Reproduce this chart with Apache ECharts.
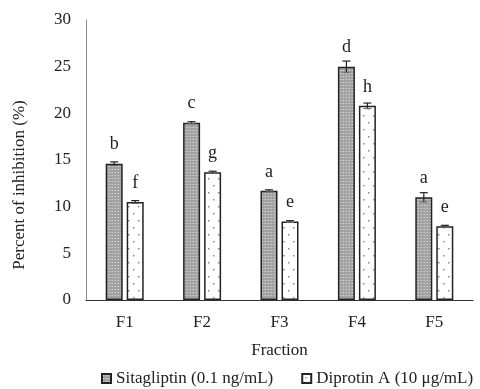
<!DOCTYPE html>
<html>
<head>
<meta charset="utf-8">
<script src="https://cdn.jsdelivr.net/npm/echarts@6/dist/echarts.min.js"></script>
<style>
  html, body { margin: 0; padding: 0; background: #fff; }
  #chart { width: 480px; height: 389px; }
</style>
</head>
<body>
<div id="chart"></div>
<script>
const fractions = ['F1', 'F2', 'F3', 'F4', 'F5'];
const sitaValues = [14.6, 19.0, 11.7, 25.0, 11.0];
const sitaErrors = [0.2, 0.1, 0.1, 0.6, 0.5];
const sitaLetters = ['b', 'c', 'a', 'd', 'a'];
const diproValues = [10.5, 13.7, 8.4, 20.8, 7.9];
const diproErrors = [0.15, 0.1, 0.1, 0.3, 0.1];
const diproLetters = ['f', 'g', 'e', 'h', 'e'];
const yTicks = [0, 5, 10, 15, 20, 25, 30];

const FONT = 'Liberation Serif';
const BAR_W = 17;
const BAR_GAP = 4;

// gray fine-grid fill for Sitagliptin
function sitaPattern() {
  const c = document.createElement('canvas');
  c.width = 3; c.height = 3;
  const ctx = c.getContext('2d');
  ctx.fillStyle = '#a2a2a2';
  ctx.fillRect(0, 0, 3, 3);
  ctx.fillStyle = '#d2d2d2';
  ctx.fillRect(1, 1, 1, 1);
  ctx.fillStyle = '#b8b8b8';
  ctx.fillRect(0, 1, 1, 1);
  return c;
}
// white with sparse gray dots for Diprotin A
function diproPattern() {
  const c = document.createElement('canvas');
  c.width = 10; c.height = 14;
  const ctx = c.getContext('2d');
  ctx.fillStyle = '#ffffff';
  ctx.fillRect(0, 0, 10, 14);
  ctx.fillStyle = '#8a8a8a';
  ctx.fillRect(3, 3, 1.5, 1.5);
  ctx.fillRect(8, 10, 1.5, 1.5);
  return c;
}

function errorSeries(name, values, errors, offset) {
  return {
    name: name,
    type: 'custom',
    z: 5,
    silent: true,
    data: values.map((v, i) => [i, v - errors[i], v + errors[i]]),
    renderItem: function (params, api) {
      const lo = api.coord([api.value(0), api.value(1)]);
      const hi = api.coord([api.value(0), api.value(2)]);
      const x = lo[0] + offset;
      const cap = 4;
      const st = { stroke: '#222', lineWidth: 1.2 };
      return {
        type: 'group',
        children: [
          { type: 'line', shape: { x1: x, y1: lo[1], x2: x, y2: hi[1] }, style: st },
          { type: 'line', shape: { x1: x - cap, y1: hi[1], x2: x + cap, y2: hi[1] }, style: st },
          { type: 'line', shape: { x1: x - cap, y1: lo[1], x2: x + cap, y2: lo[1] }, style: { stroke: '#666', lineWidth: 1 } }
        ]
      };
    }
  };
}

const off = (BAR_W + BAR_GAP) / 2;
const chart = echarts.init(document.getElementById('chart'));
chart.setOption({
  animation: false,
  textStyle: { fontFamily: FONT, color: '#222' },
  grid: { left: 86, right: 7, top: 20, bottom: 89 },
  legend: {
    top: 365,
    left: 96,
    itemWidth: 9,
    itemHeight: 9,
    itemGap: 28,
    textStyle: { fontFamily: FONT, fontSize: 17, color: '#222' },
    data: [
      { name: 'Sitagliptin (0.1 ng/mL)', icon: 'rect' },
      { name: 'Diprotin A (10 μg/mL)', icon: 'rect' }
    ]
  },
  xAxis: {
    type: 'category',
    data: fractions,
    name: 'Fraction',
    nameLocation: 'middle',
    nameGap: 42,
    nameTextStyle: { fontFamily: FONT, fontSize: 17, color: '#222' },
    axisLine: { lineStyle: { color: '#333', width: 1.2 } },
    axisTick: { show: false },
    axisLabel: { margin: 14, fontFamily: FONT, fontSize: 17, color: '#222' }
  },
  yAxis: {
    type: 'value',
    min: yTicks[0],
    max: yTicks[yTicks.length - 1],
    interval: yTicks[1] - yTicks[0],
    name: 'Percent of inhibition (%)',
    nameLocation: 'middle',
    nameGap: 58,
    nameTextStyle: { fontFamily: FONT, fontSize: 17, color: '#222', padding: [0, 50, 0, 0] },
    axisLine: { show: true, lineStyle: { color: '#8c8c8c', width: 1 } },
    axisTick: { show: false },
    splitLine: { show: false },
    axisLabel: { margin: 15, fontFamily: FONT, fontSize: 17, color: '#222' }
  },
  series: [
    {
      name: 'Sitagliptin (0.1 ng/mL)',
      type: 'bar',
      data: sitaValues,
      barWidth: BAR_W,
      barGap: (BAR_GAP / BAR_W * 100) + '%',
      itemStyle: {
        color: { image: sitaPattern(), repeat: 'repeat' },
        borderColor: '#222',
        borderWidth: 1.5
      },
      label: {
        show: true,
        position: 'top',
        distance: 10,
        fontFamily: FONT,
        fontSize: 18,
        color: '#222',
        formatter: p => sitaLetters[p.dataIndex]
      }
    },
    {
      name: 'Diprotin A (10 μg/mL)',
      type: 'bar',
      data: diproValues,
      barWidth: BAR_W,
      itemStyle: {
        color: { image: diproPattern(), repeat: 'repeat' },
        borderColor: '#222',
        borderWidth: 1.5
      },
      label: {
        show: true,
        position: 'top',
        distance: 10,
        fontFamily: FONT,
        fontSize: 18,
        color: '#222',
        formatter: p => diproLetters[p.dataIndex]
      }
    },
    errorSeries('sitaErr', sitaValues, sitaErrors, -off),
    errorSeries('diproErr', diproValues, diproErrors, off)
  ]
});
</script>
</body>
</html>
